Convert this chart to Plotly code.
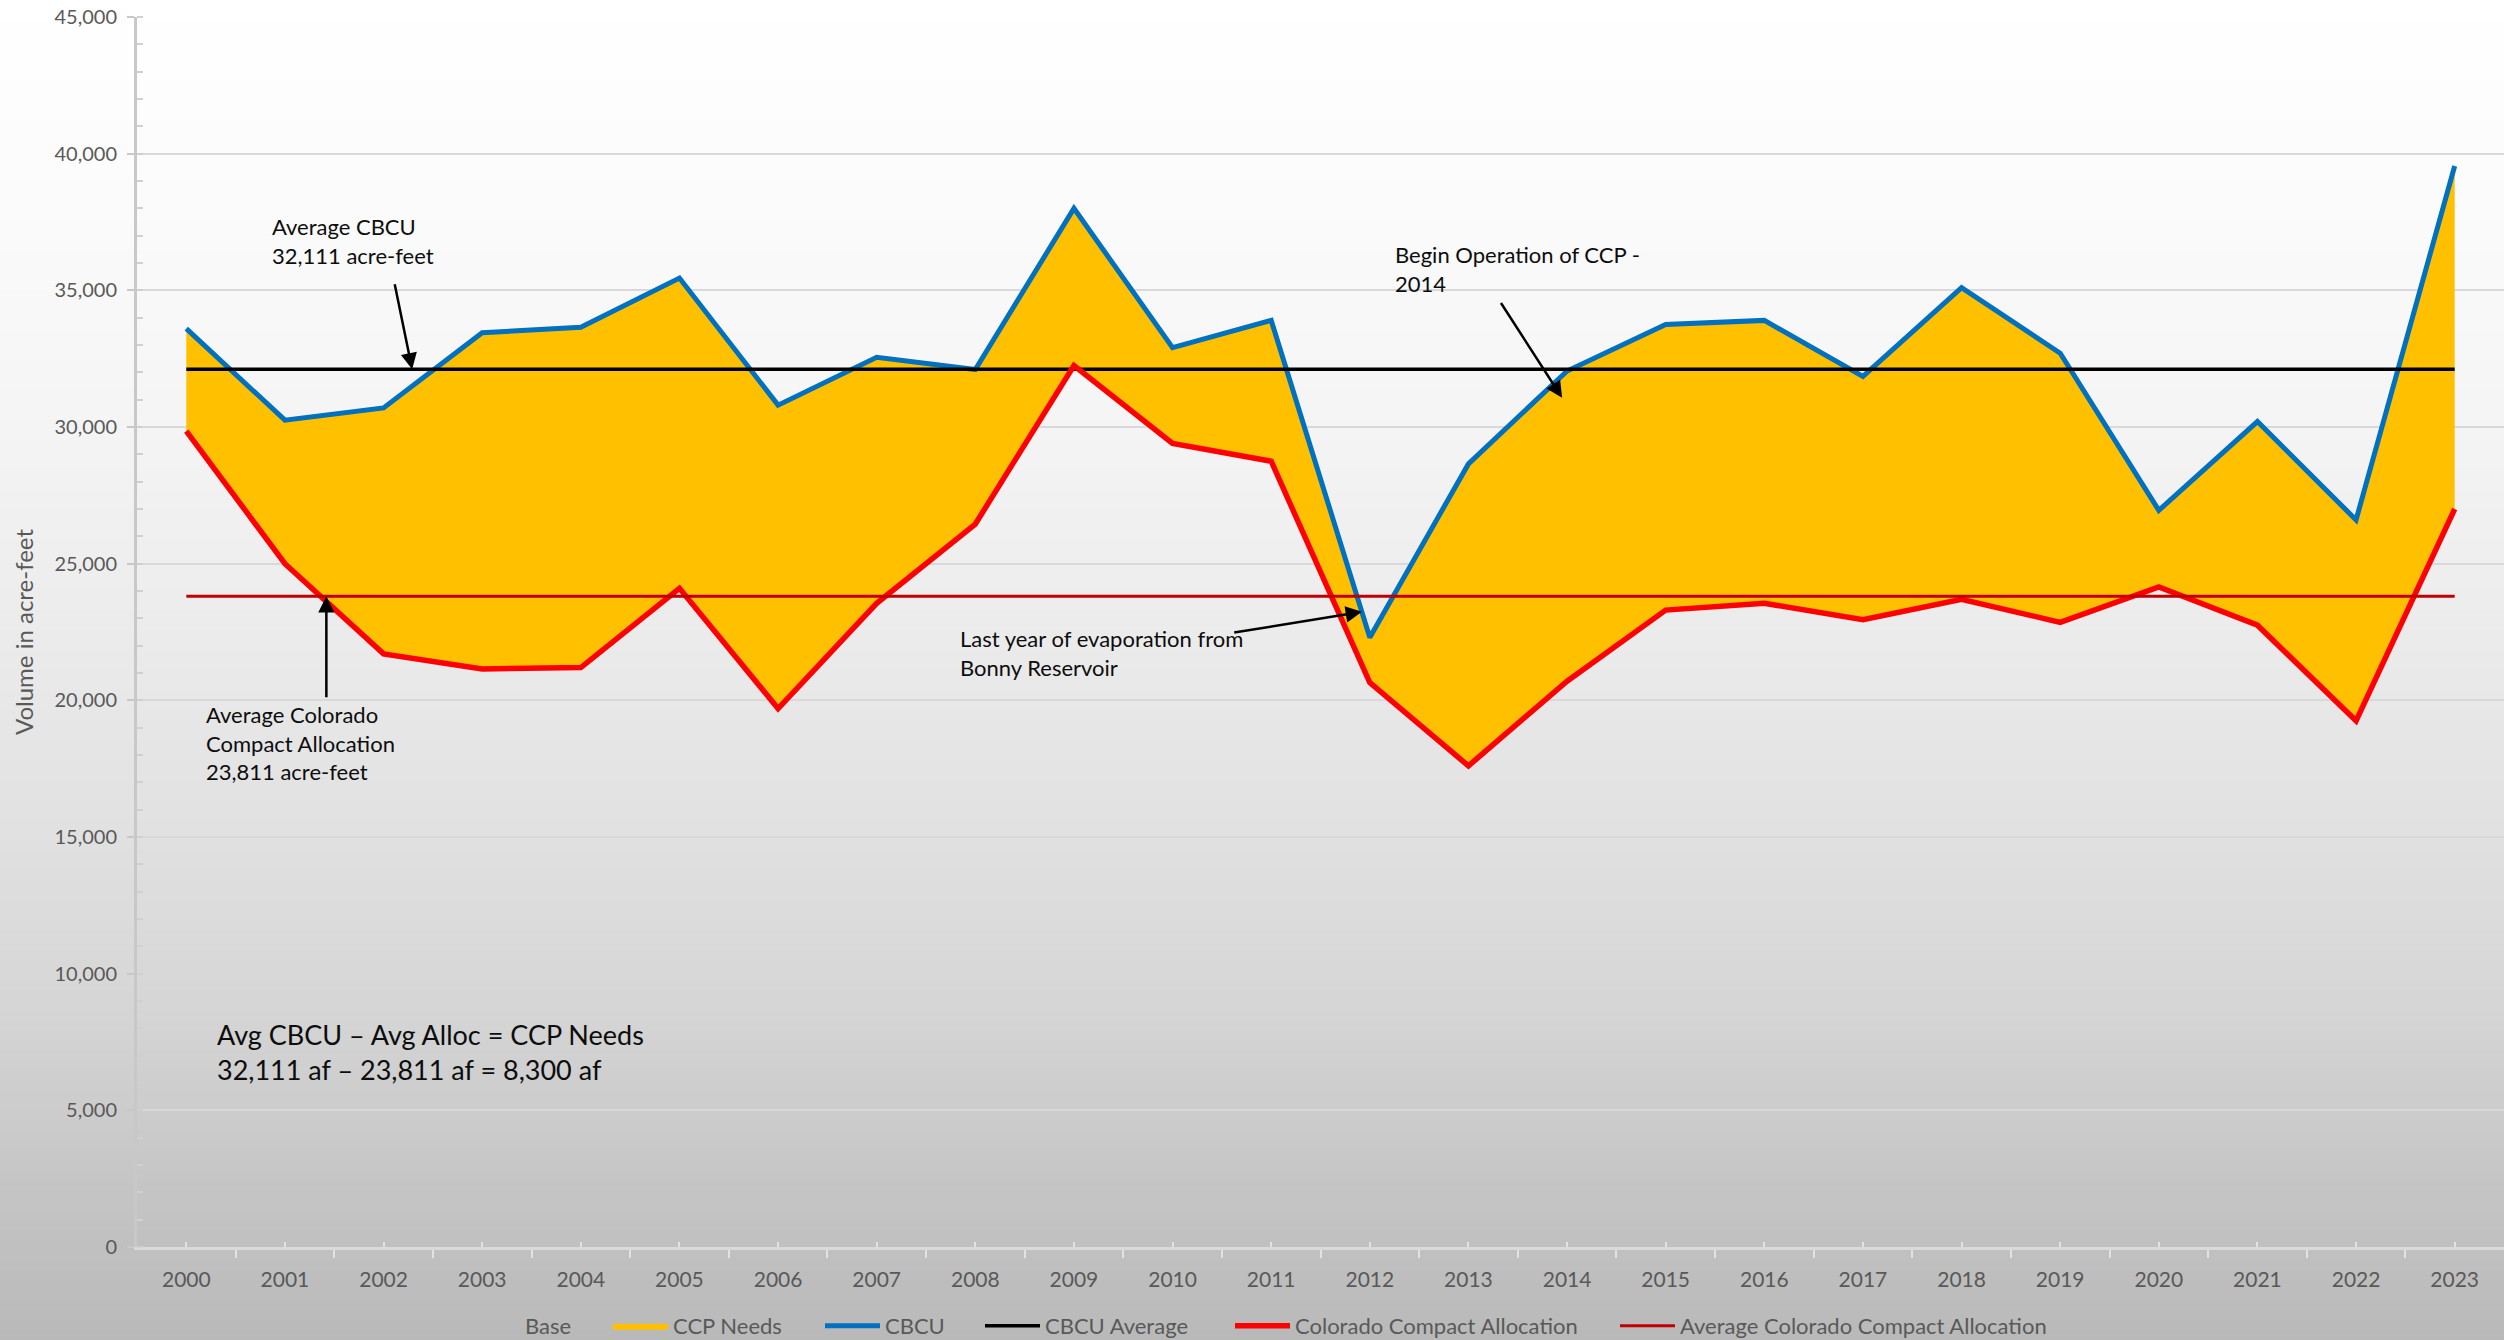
import numpy as np
import plotly.graph_objects as go

# ---------------- data ----------------
years = list(range(2000, 2024))
cbcu = [33600, 30250, 30700, 33450, 33650, 35450, 30800, 32550, 32100, 38000,
        32900, 33900, 22300, 28650, 32050, 33750, 33900, 31850, 35100, 32700,
        26950, 30200, 26600, 39550]
alloc = [29850, 25000, 21700, 21150, 21200, 24100, 19700, 23550, 26450, 32250,
         29400, 28750, 20650, 17600, 20700, 23300, 23550, 22950, 23700, 22850,
         24150, 22750, 19250, 27000]
cbcu_avg = 32111
alloc_avg = 23811
ccp_needs = [c - a for c, a in zip(cbcu, alloc)]
year_labels = [str(y) for y in years]

FONT = "Lato"
W, H = 2504, 1340
L, R, T, B = 137, 0, 17, 93
PW, PH = W - L - R, H - T - B


def pxx(p):
    return (p - L) / PW


def pxy(p):
    return (H - B - p) / PH


fig = go.Figure()

fig.add_trace(go.Scatter(x=years, y=alloc, name="Base", mode="lines", legend="legend",
                         stackgroup="s", fillcolor="rgba(0,0,0,0)",
                         line=dict(width=0, color="rgba(0,0,0,0)"), hoverinfo="skip"))
fig.add_trace(go.Scatter(x=years, y=ccp_needs, name="CCP Needs", mode="lines", legend="legend2",
                         stackgroup="s", fillcolor="#FFC000",
                         line=dict(width=0, color="#FFC000")))
fig.add_trace(go.Scatter(x=years, y=cbcu, name="CBCU", mode="lines", legend="legend3",
                         line=dict(width=5, color="#0070C0")))
fig.add_trace(go.Scatter(x=years, y=[cbcu_avg] * len(years), name="CBCU Average", mode="lines",
                         legend="legend4", line=dict(width=3.5, color="#000000")))
fig.add_trace(go.Scatter(x=years, y=alloc, name="Colorado Compact Allocation", mode="lines",
                         legend="legend5", line=dict(width=5.5, color="#FF0000")))
fig.add_trace(go.Scatter(x=years, y=[alloc_avg] * len(years), name="Average Colorado Compact Allocation",
                         mode="lines", legend="legend6", line=dict(width=3, color="#C00000")))

# ---------------- background gradient ----------------
stops_p = [0, 200, 380, 600, 830, 1000, 1100, 1200, 1340]
stops_v = [255, 251, 246, 237, 225, 214, 205, 196, 185]
shapes = []
step = 10
for p0 in range(0, H, step):
    v = int(round(np.interp(p0 + step / 2, stops_p, stops_v)))
    col = f"rgb({v},{v},{v})"
    shapes.append(dict(type="rect", xref="paper", yref="paper", layer="below",
                       x0=pxx(0), x1=pxx(W), y0=pxy(p0 + step + 1), y1=pxy(p0),
                       fillcolor=col, line=dict(width=0)))

# ---------------- annotations ----------------
ann = []


def text_ann(text, left_px, center_px, size=22):
    ann.append(dict(text=text, xref="paper", yref="paper", x=pxx(left_px), y=pxy(center_px),
                    xanchor="left", yanchor="middle", align="left", showarrow=False,
                    font=dict(family=FONT, size=size, color="#0d0d0d")))


def arrow_ann(x, y, ax, ay):
    ann.append(dict(text="", x=x, y=y, ax=ax, ay=ay, xref="x", yref="y", axref="x", ayref="y",
                    showarrow=True, arrowhead=2, arrowsize=1.3, arrowwidth=2.5,
                    arrowcolor="#000000", standoff=0, startstandoff=0))


text_ann("Average CBCU<br>32,111 acre-feet", 270, 241)
arrow_ann(2002.29, cbcu_avg, 2002.11, 35280)

text_ann("Average Colorado<br>Compact Allocation<br>23,811 acre-feet", 204, 743)
arrow_ann(2001.42, alloc_avg, 2001.42, 20060)

text_ann("Last year of evaporation from<br>Bonny Reservoir", 958, 653)
arrow_ann(2011.92, 23240, 2010.61, 22470)

text_ann("Begin Operation of CCP -<br>2014", 1393, 269)
arrow_ann(2013.95, 31070, 2013.32, 34590)

text_ann("Avg CBCU – Avg Alloc = CCP Needs<br>32,111 af – 23,811 af = 8,300 af", 215, 1052, size=27)

ann.append(dict(text="Volume in acre-feet", xref="paper", yref="paper", x=pxx(23), y=pxy(632),
                xanchor="center", yanchor="middle", textangle=-90, showarrow=False,
                font=dict(family=FONT, size=24, color="#595959")))

# ---------------- legends (one per entry, placed like the reference) ----------------
IW = 55
legend_text_starts = [525, 673, 885, 1045, 1295, 1680]
legend_keys = ["legend", "legend2", "legend3", "legend4", "legend5", "legend6"]
legend_layout = {}
for key, tx in zip(legend_keys, legend_text_starts):
    legend_layout[key] = dict(orientation="h", xref="container", yref="container",
                              x=(tx - IW - 10) / W, xanchor="left",
                              y=(H - 1326) / H, yanchor="middle",
                              font=dict(family=FONT, size=22, color="#595959"),
                              bgcolor="rgba(0,0,0,0)", itemwidth=IW, borderwidth=0)

fig.update_layout(
    width=W, height=H,
    margin=dict(l=L, r=R, t=T, b=B),
    paper_bgcolor="#ffffff",
    plot_bgcolor="rgba(0,0,0,0)",
    font=dict(family=FONT, color="#595959"),
    shapes=shapes,
    annotations=ann,
    showlegend=True,
    xaxis=dict(range=[years[0] - 0.5, years[-1] + 0.5], tickmode="array", tickvals=years,
               ticktext=year_labels, ticks="inside", ticklen=5, tickwidth=2, tickcolor="#e2e2e2",
               showgrid=False, zeroline=False, showline=True, linecolor="#dadada", linewidth=3,
               tickfont=dict(family=FONT, size=21, color="#595959"), ticklabelstandoff=12,
               minor=dict(tickmode="array", tickvals=[y + 0.5 for y in [years[0] - 1] + years],
                          ticks="outside", ticklen=8, tickwidth=2, tickcolor="#e2e2e2", showgrid=False)),
    yaxis=dict(range=[0, 45000], dtick=5000, tickformat=",", showgrid=True, gridcolor="#d9d9d9",
               gridwidth=2, zeroline=False, showline=True, linecolor="#c8c8c8", linewidth=3,
               ticks="outside", ticklen=7, tickwidth=2, tickcolor="#c8c8c8", ticklabelstandoff=6,
               tickfont=dict(family=FONT, size=20, color="#595959"),
               minor=dict(dtick=1000, ticks="inside", ticklen=6, tickwidth=2, tickcolor="#d0d0d0",
                          showgrid=False)),
    **legend_layout,
)

fig.write_html("out.html", config={"displayModeBar": False},
               post_script="document.body.style.margin='0';document.body.style.overflow='hidden';")
